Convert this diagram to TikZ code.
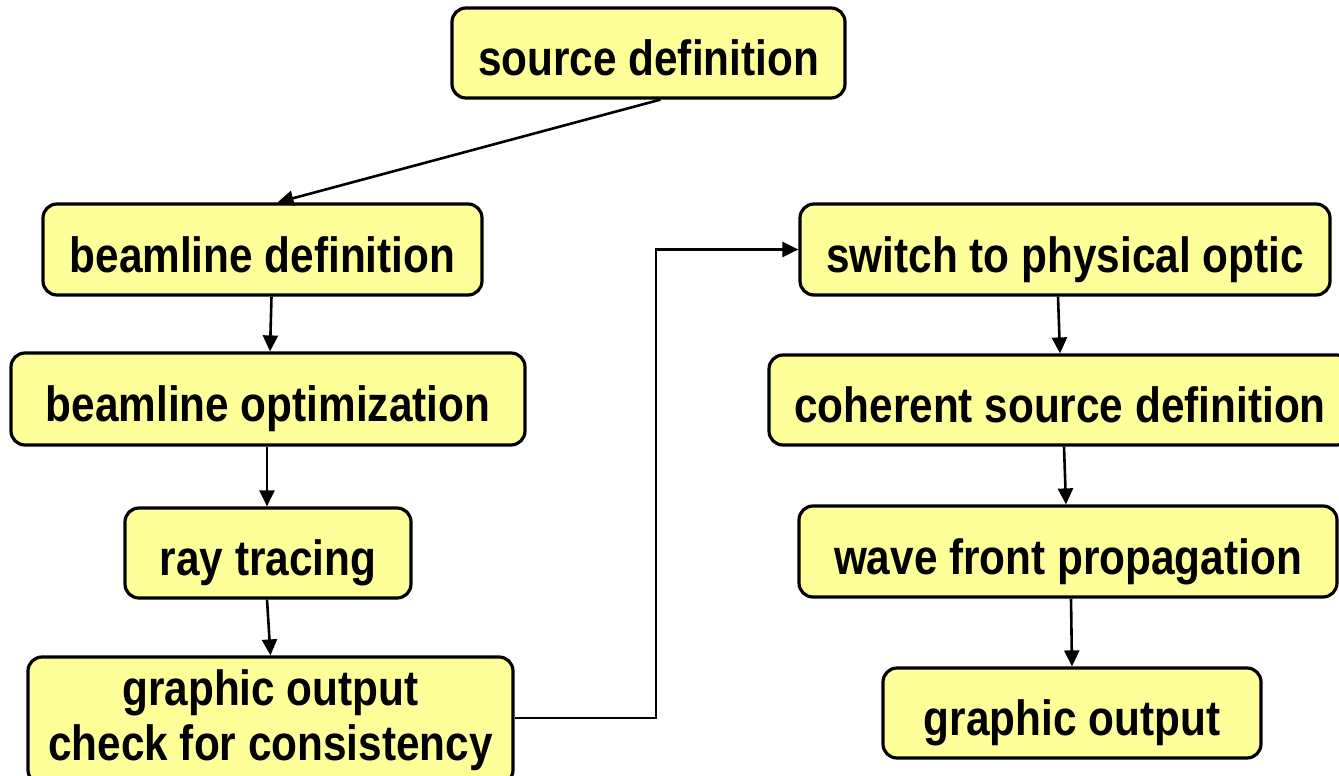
\documentclass[tikz,border=0pt]{standalone}
\usepackage{fontspec}
\setmainfont[FakeStretch=0.855]{Liberation Sans}
\usetikzlibrary{arrows.meta,calc}
\definecolor{boxyellow}{HTML}{FFFF99}
\tikzset{
  flowbox/.style={draw=black, fill=boxyellow, rounded corners=14pt, line width=3.2pt,
    inner sep=0pt, align=center, font=\fontsize{49.5}{55}\selectfont\bfseries},
  oneline/.style={text height=45pt, text depth=0pt},
  arr/.style={line width=2.6pt, -{Triangle[length=16pt,width=15pt]}}
}
\begin{document}
\begin{tikzpicture}[x=1pt,y=-1pt]
\clip (0,0) rectangle (1339,776);
\fill[white] (0,0) rectangle (1339,776);
\node[flowbox, oneline, minimum width=393pt, minimum height=90pt] (src) at (648.5,53) {source definition};
\node[flowbox, oneline, minimum width=439pt, minimum height=91pt] (bdef) at (262.5,249.5) {beamline definition};
\node[flowbox, oneline, minimum width=514pt, minimum height=92pt] (bopt) at (268,399) {beamline optimization};
\node[flowbox, oneline, minimum width=286pt, minimum height=90pt] (ray) at (268,553) {ray tracing};
\node[flowbox, minimum width=485pt, minimum height=127pt] (gout) at (270.5,720.5) {graphic output\\check for consistency};
\node[flowbox, oneline, minimum width=530pt, minimum height=91pt] (switch) at (1065,249.5) {switch to physical optic};
\node[flowbox, oneline, minimum width=582pt, minimum height=90pt] (coh) at (1060,400) {coherent source definition};
\node[flowbox, oneline, minimum width=538pt, minimum height=91pt] (wave) at (1068,551.5) {wave front propagation};
\node[flowbox, oneline, minimum width=378pt, minimum height=90pt] (gout2) at (1072,713) {graphic output};

\draw[arr] ($(src.south)+(12,0)$) -- ($(bdef.north)+(15,0)$);
\draw[arr] ($(bdef.south)+(9,0)$) -- ($(bopt.north)+(2,0)$);
\draw[arr] ($(bopt.south)+(-1,0)$) -- ($(ray.north)+(-1,0)$);
\draw[arr] ($(ray.south)+(-1,0)$) -- ($(gout.north)+(0,0)$);
\coordinate (turn) at (656,0);
\draw[arr] ($(gout.east)+(0,-2.5)$) -- ($(gout.east -| turn)+(0,-2.5)$) -- (turn |- switch.west) -- (switch.west);
\draw[arr] ($(switch.south)+(-7,0)$) -- ($(coh.north)+(0,0)$);
\draw[arr] ($(coh.south)+(4,0)$) -- ($(wave.north)+(-2,0)$);
\draw[arr] ($(wave.south)+(3,0)$) -- ($(gout2.north)+(0,0)$);
\end{tikzpicture}
\end{document}
